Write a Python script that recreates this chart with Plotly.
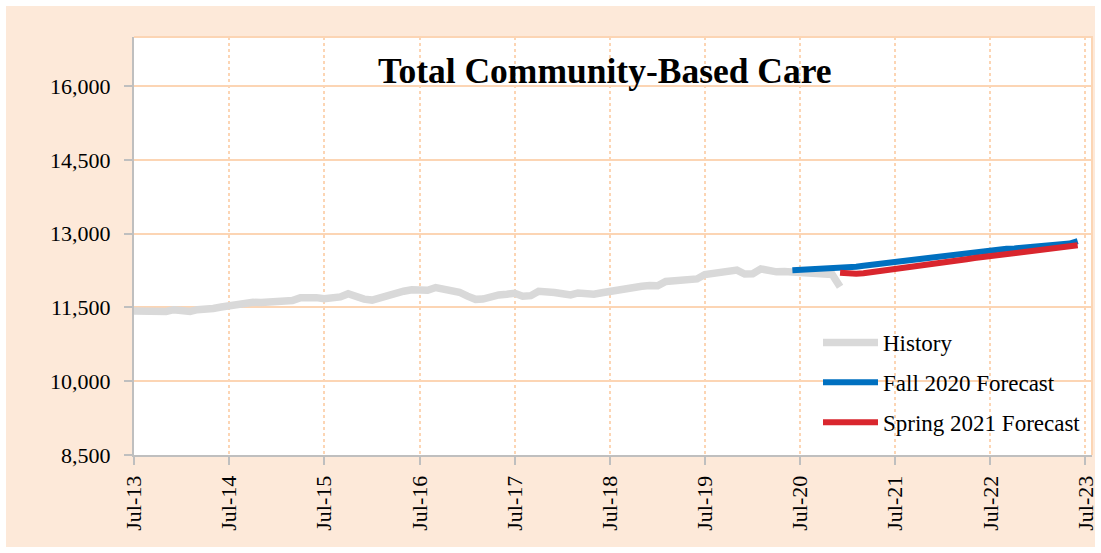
import pandas as pd
import plotly.graph_objects as go

# ---- data ----
history_start = "2013-07-01"
history_values = [
    11430, 11425, 11420, 11395, 11420, 11455, 11440, 11420, 11455, 11450,
    11480, 11510, 11540, 11550, 11565, 11605, 11600, 11595, 11620, 11630,
    11640, 11700, 11710, 11700, 11680, 11700, 11715, 11780, 11720, 11670,
    11650, 11700, 11760, 11805, 11830, 11860, 11865, 11850, 11905, 11870,
    11840, 11810, 11730, 11665, 11670, 11720, 11755, 11770, 11790, 11730,
    11740, 11830, 11800, 11805, 11780, 11755, 11795, 11765, 11770, 11800,
    11830, 11865, 11890, 11910, 11930, 11945, 11940, 12030, 12040, 12050,
    12055, 12080, 12170, 12195, 12215, 12225, 12260, 12180, 12185, 12285,
    12240, 12225, 12230, 12225, 12210, 12200, 12195, 12185, 12170, 11920,
]

fall2020_start = "2020-06-01"
fall2020_values = [
    12255, 12262, 12265, 12268, 12275, 12290, 12305, 12318, 12330, 12350,
    12370, 12390, 12410, 12430, 12455, 12478, 12490, 12510, 12530, 12545,
    12570, 12580, 12600, 12615, 12635, 12660, 12680, 12696, 12700, 12712,
    12725, 12735, 12742, 12752, 12770, 12800, 12851,
]

spring2021_start = "2020-12-01"
spring2021_values = [
    12205, 12190, 12185, 12195, 12215, 12240, 12262, 12288, 12305, 12325,
    12345, 12370, 12390, 12410, 12435, 12460, 12480, 12505, 12525, 12546,
    12565, 12585, 12600, 12620, 12635, 12648, 12660, 12680, 12700, 12730,
    12764,
]

series_names = ["History", "Fall 2020 Forecast", "Spring 2021 Forecast"]
series_colors = ["#D9D9D9", "#0070C0", "#D9262E"]
title_text = "Total Community-Based Care"
y_ticks = [8500, 10000, 11500, 13000, 14500, 16000]


def months(start, n):
    return pd.date_range(start=start, periods=n, freq="MS")


FONT = "Liberation Serif, Times New Roman, serif"
GRID = "#FCD5B4"
AXIS = "#BFBFBF"
PEACH = "#FDE9D9"

fig = go.Figure()
series = [
    (history_start, history_values, 7.5),
    (fall2020_start, fall2020_values, 6),
    (spring2021_start, spring2021_values, 6),
]
for (start, vals, w), name, color in zip(series, series_names, series_colors):
    fig.add_trace(go.Scatter(
        x=months(start, len(vals)), y=vals, mode="lines", name=name,
        legendgroup=name,
        line=dict(color=color, width=w, shape="linear"),
        hoverinfo="x+y",
    ))

W, H = 1101, 553
L, R, T, B = 134, 9, 37, 98
pw, ph = W - L - R, H - T - B


def px(xp):
    return (xp - L) / pw


def py(yp):
    return (H - B - yp) / ph


fig.update_layout(
    width=W, height=H,
    margin=dict(l=L, r=R, t=T, b=B, autoexpand=False),
    paper_bgcolor=PEACH,
    plot_bgcolor="white",
    font=dict(family=FONT, color="#000000", size=22),
    showlegend=True,
    legend=dict(
        x=px(818), y=py(321), xanchor="left", yanchor="top",
        bgcolor="rgba(0,0,0,0)", font=dict(family=FONT, size=23, color="#000"),
        traceorder="grouped", tracegroupgap=7, itemwidth=55,
    ),
    annotations=[dict(
        text="<b>" + title_text + "</b>", x=px(605), y=py(71),
        xref="paper", yref="paper", xanchor="center", yanchor="middle",
        showarrow=False, font=dict(family=FONT, size=35.5, color="#000"),
    )],
    shapes=[
        # top and right border of plot area
        dict(type="path", xref="paper", yref="paper",
             path="M 0 1 L 1 1 L 1 0", line=dict(color=GRID, width=2),
             layer="below"),
        # white outer margin
        dict(type="rect", xref="paper", yref="paper",
             x0=px(0), x1=px(W), y0=py(H), y1=py(0),
             line=dict(color="white", width=12), fillcolor="rgba(0,0,0,0)"),
    ],
)

fig.update_xaxes(
    type="date",
    range=["2013-07-01", "2023-07-26"],
    tick0="2013-07-01", dtick="M12", tickformat="%b-%y",
    tickangle=-90,
    ticks="outside", ticklen=8, tickwidth=2, tickcolor=AXIS,
    showline=True, linecolor=AXIS, linewidth=2,
    showgrid=True, gridcolor=GRID, gridwidth=2, griddash="dot",
    tickfont=dict(family=FONT, size=22, color="#000"),
    ticklabelstandoff=2,
    zeroline=False,
)
fig.update_yaxes(
    range=[8500, 17000],
    tickvals=y_ticks, tickformat=",",
    ticks="outside", ticklen=8, tickwidth=2, tickcolor=AXIS,
    showline=True, linecolor=AXIS, linewidth=2,
    showgrid=True, gridcolor=GRID, gridwidth=2,
    tickfont=dict(family=FONT, size=22, color="#000"),
    ticklabelstandoff=9,
    zeroline=False,
)

fig.write_html(
    "out.html",
    config={"displayModeBar": False},
    post_script="document.body.style.margin='0';",
)
